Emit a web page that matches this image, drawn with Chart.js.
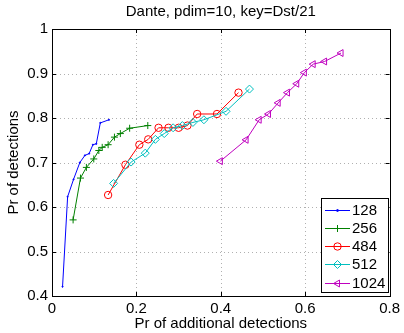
<!DOCTYPE html>
<html>
<head>
<meta charset="utf-8">
<script src="https://cdn.jsdelivr.net/npm/chart.js@4/dist/chart.umd.min.js"></script>
<style>
	html, body { margin: 0; padding: 0; background: #fff; }
	#wrap { width: 404px; height: 333px; }
</style>
</head>
<body>
<div id="wrap"><canvas id="myChart" width="404" height="333"></canvas></div>
<script>
// values
var seriesLabels = ['128', '256', '484', '512', '1024']

var x128 = [0.025, 0.037, 0.051, 0.066, 0.078, 0.088, 0.097, 0.105, 0.1145, 0.135]
var y128 = [0.421, 0.623, 0.662, 0.700, 0.716, 0.720, 0.740, 0.742, 0.789, 0.796]

var x256 = [0.050, 0.0675, 0.0815, 0.099, 0.111, 0.119, 0.133, 0.148, 0.162, 0.184, 0.227]
var y256 = [0.571, 0.665, 0.689, 0.708, 0.727, 0.734, 0.740, 0.757, 0.765, 0.777, 0.783]

var x484 = [0.133, 0.174, 0.207, 0.228, 0.2525, 0.276, 0.300, 0.321, 0.344, 0.391, 0.442]
var y484 = [0.627, 0.695, 0.740, 0.752, 0.778, 0.778, 0.778, 0.783, 0.809, 0.809, 0.857]

var x512 = [0.146, 0.1875, 0.221, 0.245, 0.266, 0.287, 0.309, 0.334, 0.360, 0.4125, 0.468]
var y512 = [0.653, 0.701, 0.721, 0.752, 0.765, 0.778, 0.783, 0.790, 0.796, 0.815, 0.865]

var x1024 = [0.399, 0.460, 0.491, 0.513, 0.536, 0.558, 0.580, 0.598, 0.619, 0.646, 0.685]
var y1024 = [0.703, 0.751, 0.796, 0.809, 0.834, 0.857, 0.877, 0.902, 0.921, 0.927, 0.946]

var xTicks = [0, 0.2, 0.4, 0.6, 0.8]
var yTicks = [0.4, 0.5, 0.6, 0.7, 0.8, 0.9, 1]

var fontFamily = '"Liberation Sans", Arial, Helvetica, sans-serif'
Chart.defaults.font.family = fontFamily
Chart.defaults.font.size = 15
Chart.defaults.color = '#000'

function pts(xs, ys) {
	return xs.map(function(x, i) { return { x: x, y: ys[i] } })
}

var styles = [
	{ color: '#0000ff', pointStyle: 'circle', radius: 0.6, fill: true, rotation: 0 },
	{ color: '#008000', pointStyle: 'cross', radius: 3.5, fill: false, rotation: 0 },
	{ color: '#ff0000', pointStyle: 'circle', radius: 3.7, fill: false, rotation: 0 },
	{ color: '#00bfbf', pointStyle: 'rectRot', radius: 4, fill: false, rotation: 0 },
	{ color: '#bf00bf', pointStyle: 'triangle', radius: 4, fill: false, rotation: -90 },
]
var xsAll = [x128, x256, x484, x512, x1024]
var ysAll = [y128, y256, y484, y512, y1024]

var datasets = seriesLabels.map(function(label, i) {
	var s = styles[i]
	return {
		label: label,
		data: pts(xsAll[i], ysAll[i]),
		showLine: true,
		borderColor: s.color,
		borderWidth: 1,
		backgroundColor: s.fill ? s.color : 'rgba(0,0,0,0)',
		pointStyle: s.pointStyle,
		pointRadius: s.radius,
		pointRotation: s.rotation,
		pointBorderWidth: 1,
		pointHoverRadius: s.radius,
		order: seriesLabels.length - i,
	}
})

// dotted grid, drawn under the lines
var gridPlugin = {
	id: 'dotGrid',
	beforeDatasetsDraw: function(chart) {
		var ctx = chart.ctx
		var a = chart.chartArea
		var xs = chart.scales.x, ys = chart.scales.y
		ctx.save()
		ctx.strokeStyle = '#b0b0b0'
		ctx.lineWidth = 1
		ctx.setLineDash([1, 3])
		ctx.beginPath()
		xTicks.forEach(function(v) {
			var px = Math.round(xs.getPixelForValue(v)) + 0.5
			ctx.moveTo(px, a.bottom); ctx.lineTo(px, a.top)
		})
		yTicks.forEach(function(v) {
			var py = Math.round(ys.getPixelForValue(v)) + 0.5
			ctx.moveTo(a.left, py); ctx.lineTo(a.right, py)
		})
		ctx.stroke()
		ctx.restore()
	}
}

// MATLAB style: box round the axes and ticks pointing inwards
var boxPlugin = {
	id: 'box',
	afterDraw: function(chart) {
		var ctx = chart.ctx
		var a = chart.chartArea
		var xs = chart.scales.x, ys = chart.scales.y
		ctx.save()
		ctx.strokeStyle = '#000'
		ctx.lineWidth = 1
		ctx.beginPath()
		xTicks.forEach(function(v) {
			var px = Math.round(xs.getPixelForValue(v)) + 0.5
			ctx.moveTo(px, a.bottom); ctx.lineTo(px, a.bottom - 4)
			ctx.moveTo(px, a.top); ctx.lineTo(px, a.top + 4)
		})
		yTicks.forEach(function(v) {
			var py = Math.round(ys.getPixelForValue(v)) + 0.5
			ctx.moveTo(a.left, py); ctx.lineTo(a.left + 4, py)
			ctx.moveTo(a.right, py); ctx.lineTo(a.right - 4, py)
		})
		ctx.stroke()
		ctx.strokeRect(Math.round(a.left) + 0.5, Math.round(a.top) + 0.5, Math.round(a.right - a.left), Math.round(a.bottom - a.top))
		ctx.restore()
	}
}

// legend box inside the lower right corner
var legendPlugin = {
	id: 'matlabLegend',
	afterDraw: function(chart) {
		var ctx = chart.ctx
		var left = 321, top = 198, w = 67, h = 94
		ctx.save()
		ctx.fillStyle = '#fff'
		ctx.fillRect(left, top, w, h)
		ctx.strokeStyle = '#000'
		ctx.lineWidth = 1
		ctx.strokeRect(left + 0.5, top + 0.5, w, h)
		chart.data.datasets.forEach(function(ds, i) {
			var s = styles[i]
			var y = Math.round(209.5 + i * 18.3) + 0.5
			ctx.strokeStyle = s.color
			ctx.beginPath()
			ctx.moveTo(325, y); ctx.lineTo(350, y)
			ctx.stroke()
			ctx.fillStyle = s.fill ? s.color : 'rgba(0,0,0,0)'
			Chart.helpers.drawPoint(ctx, {
				pointStyle: s.pointStyle, radius: Math.max(s.radius, 1), rotation: s.rotation, borderWidth: 1
			}, 337.5, y)
			ctx.fillStyle = '#000'
			ctx.font = '15px ' + fontFamily
			ctx.textBaseline = 'middle'
			ctx.textAlign = 'left'
			ctx.fillText(ds.label, 352, y)
		})
		ctx.restore()
	}
}

var ctx = document.getElementById('myChart')
var chart = new Chart(ctx, {
	type: 'scatter',
	data: { datasets: datasets },
	plugins: [gridPlugin, boxPlugin, legendPlugin],
	options: {
		responsive: false,
		animation: false,
		layout: { padding: { left: 0, right: 10, top: 0, bottom: 0 } },
		plugins: {
			legend: { display: false },
			tooltip: { enabled: false },
			title: {
				display: true,
				text: 'Dante, pdim=10, key=Dst/21',
				fullSize: false,
				font: { size: 15, weight: 'normal' },
				padding: { top: 3, bottom: 8 },
				color: '#000',
			},
		},
		scales: {
			x: {
				type: 'linear',
				min: 0,
				max: 0.8,
				afterFit: function(scale) { scale.height = 37 },
				afterBuildTicks: function(scale) { scale.ticks = xTicks.map(function(v) { return { value: v } }) },
				ticks: {
					padding: 4,
					callback: function(v) { return String(Number(v.toFixed(1))) },
				},
				grid: { display: false, drawTicks: false },
				border: { display: false },
				title: { display: true, text: 'Pr of additional detections', padding: { top: 0, bottom: 0 } },
			},
			y: {
				type: 'linear',
				min: 0.4,
				max: 1,
				afterFit: function(scale) { scale.width = 52 },
				afterBuildTicks: function(scale) { scale.ticks = yTicks.map(function(v) { return { value: v } }) },
				ticks: {
					padding: 4,
					callback: function(v) { return String(Number(v.toFixed(1))) },
				},
				grid: { display: false, drawTicks: false },
				border: { display: false },
				title: { display: true, text: 'Pr of detections', padding: { top: 5, bottom: 0 } },
			},
		},
	},
})
</script>
</body>
</html>
